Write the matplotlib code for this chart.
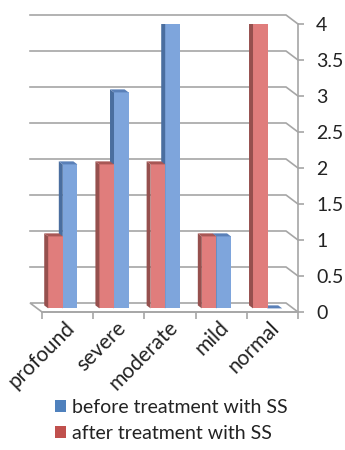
import numpy as np
import matplotlib
matplotlib.use("Agg")
import matplotlib.pyplot as plt
from matplotlib.patches import Polygon, Patch
from matplotlib.transforms import ScaledTranslation

plt.rcParams['font.family'] = ['Lato', 'DejaVu Sans']

# data
categories = ['profound', 'severe', 'moderate', 'mild', 'normal']
before = [2, 3, 4, 1, 0]
after = [1, 2, 2, 1, 4]
yticks = [0, 0.5, 1, 1.5, 2, 2.5, 3, 3.5, 4]
ytick_labels = ['0', '0.5', '1', '1.5', '2', '2.5', '3', '3.5', '4']

# fake 3d geometry (in data units)
DX, DY = -0.234, 0.125      # depth of the back wall
BX, BY = 0.4 * DX, 0.4 * DY  # where the bars sit
SX, SY = -0.078, 0.042      # thickness of a bar
W = 0.285

fig = plt.figure(figsize=(3.45, 4.5), dpi=100)
ax = fig.add_axes([42 / 345, 1 - 312 / 450, 256 / 345, 288 / 450])
ax.set_xlim(0, 5)
ax.set_ylim(0, 4)
ax.patch.set_visible(False)

grid_c = '#a6a6a6'
# back wall gridlines + diagonal to the axis
for y in yticks[1:]:
    ax.plot([DX, 5 + DX, 5], [y + DY, y + DY, y], color=grid_c, lw=1.2,
            clip_on=False, zorder=1)
# floor
floor = Polygon([(0, 0), (5, 0), (5 + DX, DY), (DX, DY)], closed=True,
                facecolor='white', edgecolor=grid_c, lw=1.2, clip_on=False, zorder=1)
ax.add_patch(floor)


def bars3d(xs, vals, face, side, top, z):
    ax.bar(xs, vals, width=W, bottom=BY, align='edge', color=face,
           edgecolor='none', zorder=z)
    for x0, v in zip(xs, vals):
        h = v + BY
        ax.add_patch(Polygon([(x0, BY), (x0, h), (x0 + SX, h + SY), (x0 + SX, BY + SY)],
                             facecolor=side, edgecolor='none', zorder=z))
        ax.add_patch(Polygon([(x0, h), (x0 + W, h), (x0 + W + SX, h + SY), (x0 + SX, h + SY)],
                             facecolor=top, edgecolor='none', zorder=z))


centers = np.arange(len(categories)) + 0.5
bars3d(centers + BX, before, '#7ea5dc', '#4a6e9f', '#5a80b8', 3)
bars3d(centers + BX - W, after, '#e07d7c', '#96504e', '#a85755', 4)

# axes styling
for s in ['top', 'left']:
    ax.spines[s].set_visible(False)
ax.spines['right'].set_color(grid_c)
ax.spines['bottom'].set_color(grid_c)
ax.spines['right'].set_linewidth(1.2)
ax.spines['bottom'].set_linewidth(1.2)

ax.yaxis.tick_right()
ax.set_yticks(yticks)
ax.set_yticklabels(ytick_labels)
ax.tick_params(axis='y', direction='out', length=4, width=1.2, color=grid_c,
               pad=9, labelsize=14, labelcolor='#222222')

ax.set_xticks(np.arange(len(categories) + 1))
ax.set_xticklabels([])
ax.tick_params(axis='x', which='major', direction='out', length=5, width=1.2, color=grid_c)
ax.set_xticks(centers, minor=True)
ax.set_xticklabels(categories, minor=True)
ax.tick_params(axis='x', which='minor', length=0, pad=4, labelsize=15, labelcolor='#222222')
shift = ScaledTranslation(-2 / 72, 0, fig.dpi_scale_trans)
for lab in ax.get_xticklabels(minor=True):
    lab.set_rotation(45)
    lab.set_ha('right')
    lab.set_va('top')
    lab.set_rotation_mode('anchor')
    lab.set_transform(lab.get_transform() + shift)

handles = [Patch(facecolor='#4f81bd', label='before treatment with SS'),
           Patch(facecolor='#c0504d', label='after treatment with SS')]
fig.legend(handles=handles, loc='upper left', bbox_to_anchor=(55 / 345, 1 - 399 / 450),
           frameon=False, fontsize=14, handlelength=0.55, handleheight=0.55,
           handletextpad=0.35, labelspacing=0.45, borderpad=0, borderaxespad=0,
           labelcolor='#222222')

fig.savefig('out.png', dpi=100)
